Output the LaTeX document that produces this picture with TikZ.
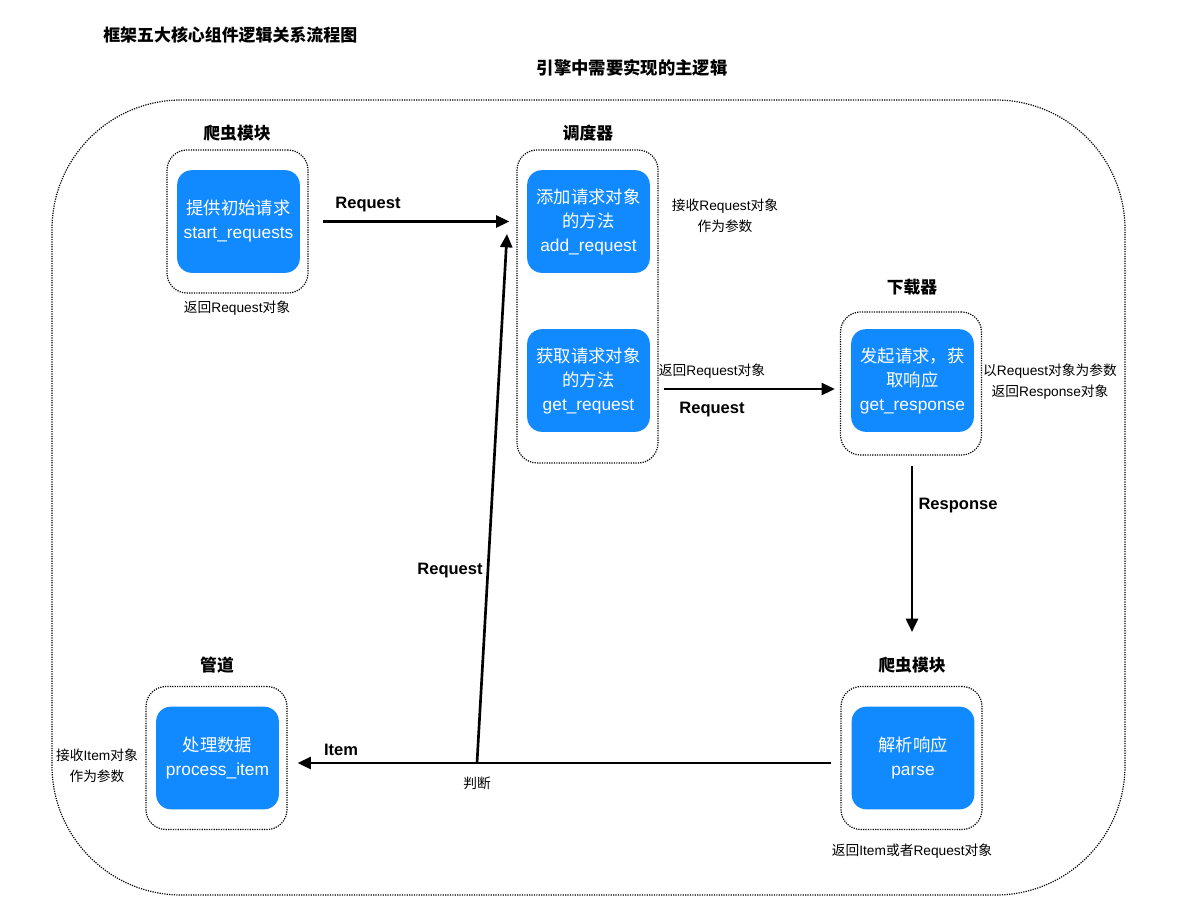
\documentclass[tikz,border=0pt]{standalone}
\usepackage{fontspec}
\setmainfont{Liberation Sans}
\newfontfamily\zhfont{Noto Sans CJK SC}
\newcommand\zh[1]{{\zhfont #1}}
\usetikzlibrary{arrows.meta}
\definecolor{boxblue}{RGB}{18,138,255}
\begin{document}
\begin{tikzpicture}[x=0.75pt,y=-0.75pt,
  bluebox/.style={fill=boxblue, rounded corners=11pt, minimum width=92pt, minimum height=77pt,
    text=white, align=center, font=\fontsize{13}{18}\selectfont, inner sep=0pt},
  dotbox/.style={draw, dash pattern=on 0.9pt off 0.9pt, line width=0.9pt, rounded corners=15pt,
    minimum width=105.75pt, minimum height=107.25pt, inner sep=0pt},
  lab/.style={font=\fontsize{12.6}{15}\selectfont\bfseries},
  note/.style={font=\fontsize{10.3}{15.75}\selectfont, align=center, inner sep=0pt},
  elab/.style={font=\fontsize{12.4}{15}\selectfont\bfseries, inner sep=0pt},
  arr/.style={-{Triangle[length=10pt,width=9pt]}, line width=2pt}]
\useasboundingbox (0,0) rectangle (1200,922);

% title
\node[anchor=west, font=\fontsize{12.7}{16}\selectfont\bfseries, inner sep=0pt] (title) at (103,35) {\zh{框架五大核心组件逻辑关系流程图}};
\node[font=\fontsize{13}{16}\selectfont\bfseries, inner sep=0pt] (sub) at (632,68) {\zh{引擎中需要实现的主逻辑}};

% engine outline
\node[draw, dash pattern=on 0.9pt off 0.9pt, line width=0.9pt, rounded corners=97pt,
  minimum width=804.75pt, minimum height=596.25pt, inner sep=0pt] (engine) at (588.5,497.5) {};

% spider module (top)
\node[dotbox] (sp1d) at (237.5,221.5) {};
\node[bluebox] (sp1) at (238.5,221.5) {\zh{提供初始请求}\\start\_requests};
\node[lab] (sp1l) at (237,133) {\zh{爬虫模块}};
\node[note] (sp1n) at (237,308) {\zh{返回}Request\zh{对象}};

% scheduler
\node[dotbox, minimum height=234.75pt] (sched) at (587.5,306.5) {};
\node[bluebox] (add) at (588.5,221.5) {\zh{添加请求对象}\\\zh{的方法}\\add\_request};
\node[bluebox] (get) at (588.5,380.5) {\zh{获取请求对象}\\\zh{的方法}\\get\_request};
\node[lab] (schedl) at (588,133) {\zh{调度器}};
\node[note] (addn) at (725,215.5) {\zh{接收}Request\zh{对象}\\\zh{作为参数}};

% downloader
\node[dotbox] (dld) at (911,383.5) {};
\node[bluebox] (dl) at (912.5,380.5) {\zh{发起请求，获}\\\zh{取响应}\\get\_response};
\node[lab] (dll) at (912,287) {\zh{下载器}};
\node[note] (dln) at (1050,381.5) {\zh{以}Request\zh{对象为参数}\\\zh{返回}Response\zh{对象}};

% spider module (bottom)
\node[dotbox] (sp2d) at (911.5,758) {};
\node[bluebox] (sp2) at (913,758) {\zh{解析响应}\\parse};
\node[lab] (sp2l) at (912,665) {\zh{爬虫模块}};
\node[note] (sp2n) at (912,851) {\zh{返回}Item\zh{或者}Request\zh{对象}};

% pipeline
\node[dotbox] (piped) at (216.5,758) {};
\node[bluebox] (pipe) at (217.5,758) {\zh{处理数据}\\process\_item};
\node[lab] (pipel) at (217,665) {\zh{管道}};
\node[note] (pipen) at (97,765.5) {\zh{接收}Item\zh{对象}\\\zh{作为参数}};

% connectors
\coordinate (judge) at (477,763);
\coordinate (reqin) at (507,234);
\coordinate (respend) at (912,632);

\draw[arr] ([xshift=10.5pt]sp1d.east) -- ([xshift=-5.25pt]sp1d.east -| sched.west);
\node[elab] (r1) at (368,205) {Request};

\draw[arr] ([xshift=3.75pt]sched.east |- 0,389) -- ([xshift=-3.75pt]dld.west |- 0,389);
\node[note] (r2n) at (712,371) {\zh{返回}Request\zh{对象}};
\node[elab] (r2) at (712,410) {Request};

\draw[arr] ([yshift=-7.5pt]dld.south -| respend) -- (respend);
\node[elab] (resp) at (958,506) {Response};

\draw[arr] ([xshift=-6.75pt,yshift=-3.75pt]sp2d.west) -- ([xshift=7.5pt,yshift=-3.75pt]piped.east);
\node[elab] (item) at (341,750) {Item};
\node[note] (judgel) at (477,783) {\zh{判断}};

\draw[arr] (judge) -- (reqin);
\node[elab] (r3) at (450,571) {Request};
\end{tikzpicture}
\end{document}
